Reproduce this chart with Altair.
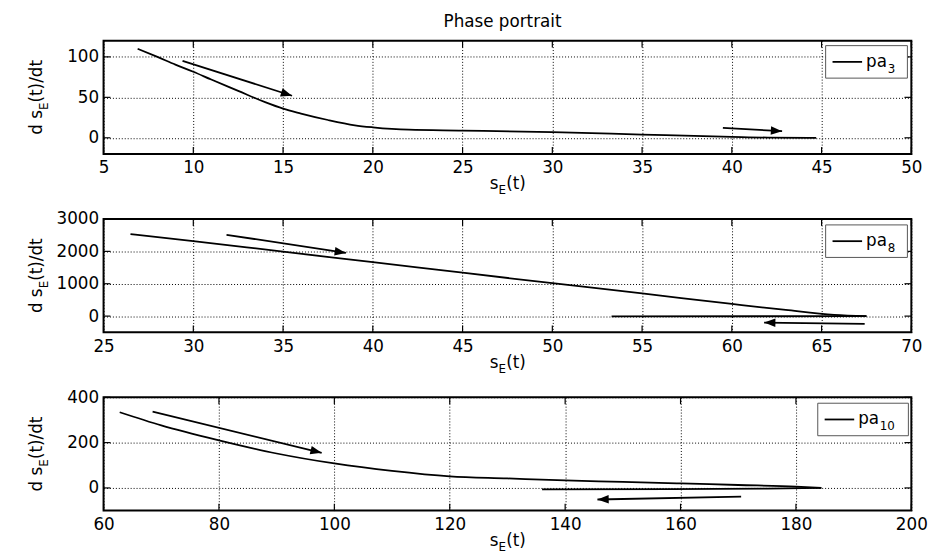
import math
import altair as alt
import pandas as pd

# ---------------- data ----------------
# panel 1 : pa_3
p1_x = [6.9, 8.0, 9.0, 10.0, 11.0, 12.5, 14.0, 15.0, 16.0, 17.5, 19.0, 20.0, 22.0, 25.0, 30.0, 35.0, 40.0, 42.0, 44.7]
p1_y = [110, 100, 90.5, 81.6, 72, 58, 44, 36, 30, 22, 15.5, 13, 10, 9, 7, 4, 1.2, 0.3, 0]
p1_rx = []
p1_ry = []
p1_arrows = [(9.4, 95, 15.5, 52), (39.5, 12.2, 42.8, 8.2)]
p1_xticks = [5, 10, 15, 20, 25, 30, 35, 40, 45, 50]
p1_yticks = [0, 50, 100]
p1_xdom = [5, 50]
p1_ydom = [-20, 120]

# panel 2 : pa_8
p2_x = [26.5, 30, 35, 40, 45, 50, 55, 60, 63, 65.7, 67.5]
p2_y = [2533, 2320, 1990, 1668, 1340, 1017, 700, 376, 190, 40, 0]
p2_rx = [67.5, 53.3]
p2_ry = [0, -10]
p2_arrows = [(31.85, 2513, 38.5, 1953), (67.4, -240, 61.8, -200)]
p2_xticks = [25, 30, 35, 40, 45, 50, 55, 60, 65, 70]
p2_yticks = [0, 1000, 2000, 3000]
p2_xdom = [25, 70]
p2_ydom = [-500, 3000]

# panel 3 : pa_10
p3_x = [62.8, 70, 80, 90, 100, 110, 120, 130, 140, 150, 160, 170, 180, 184.4]
p3_y = [334, 276, 210, 152, 108, 75, 51, 42, 33, 27, 20, 13, 6, 0]
p3_rx = [184.4, 175, 136]
p3_ry = [0, -3, -6]
p3_arrows = [(68.5, 337, 97.8, 155), (170.5, -38, 145.6, -51)]
p3_xticks = [60, 80, 100, 120, 140, 160, 180, 200]
p3_yticks = [0, 200, 400]
p3_xdom = [60, 200]
p3_ydom = [-100, 400]

W, H = 820, 115
FONT = "DejaVu Sans"
FS = 17      # main text size
FSS = 12     # subscript size
ARROW = "M0,0L-1,-0.38L-1,0.38Z"
ONE = pd.DataFrame({"a": [0]})


def txt(text, x, y, size=FS, angle=0, align="left", baseline="alphabetic"):
    return alt.Chart(ONE).mark_text(
        text=text, font=FONT, fontSize=size, color="black", angle=angle,
        align=align, baseline=baseline
    ).encode(x=alt.value(x), y=alt.value(y))


def panel(xv, yv, rx, ry, arrows, xticks, yticks, xdom, ydom, sub, legend_box, title=None):
    xs = alt.Scale(domain=xdom, nice=False, zero=False)
    ys = alt.Scale(domain=ydom, nice=False, zero=False)
    axX = alt.Axis(values=xticks, title=None, grid=True, format="d")
    axY = alt.Axis(values=yticks, title=None, grid=True, format="d")

    curve_df = pd.DataFrame({
        "x": list(xv) + list(rx),
        "y": list(yv) + list(ry),
        "seg": ["fwd"] * len(xv) + ["ret"] * len(rx),
    })
    sx = W / (xdom[1] - xdom[0])
    sy = H / (ydom[1] - ydom[0])
    arr_rows = []
    for (x1, y1, x2, y2) in arrows:
        ang = math.degrees(math.atan2(-(y2 - y1) * sy, (x2 - x1) * sx)) % 360
        arr_rows.append({"x1": x1, "y1": y1, "x2": x2, "y2": y2, "ang": ang})
    arr_df = pd.DataFrame(arr_rows)

    curve = alt.Chart(curve_df).mark_line(
        color="black", strokeWidth=1.8, interpolate="monotone"
    ).encode(
        x=alt.X("x:Q", scale=xs, axis=axX),
        y=alt.Y("y:Q", scale=ys, axis=axY),
        detail="seg:N",
    )
    shafts = alt.Chart(arr_df).mark_rule(color="black", strokeWidth=1.8).encode(
        x=alt.X("x1:Q", scale=xs, axis=axX),
        y=alt.Y("y1:Q", scale=ys, axis=axY),
        x2="x2:Q",
        y2="y2:Q",
    )
    heads = alt.Chart(arr_df).mark_point(
        shape=ARROW, filled=True, size=520, color="black", opacity=1, strokeWidth=0
    ).encode(
        x=alt.X("x2:Q", scale=xs, axis=axX),
        y=alt.Y("y2:Q", scale=ys, axis=axY),
        angle=alt.Angle("ang:Q", scale=None),
    )
    xt_df = pd.DataFrame({"v": xticks})
    yt_df = pd.DataFrame({"v": yticks})
    tb = alt.Chart(xt_df).mark_rule(color="black", strokeWidth=1.2).encode(
        x=alt.X("v:Q", scale=xs, axis=axX), y=alt.value(H), y2=alt.value(H - 7))
    tt = alt.Chart(xt_df).mark_rule(color="black", strokeWidth=1.2).encode(
        x=alt.X("v:Q", scale=xs, axis=axX), y=alt.value(0), y2=alt.value(7))
    tl = alt.Chart(yt_df).mark_rule(color="black", strokeWidth=1.2).encode(
        y=alt.Y("v:Q", scale=ys, axis=axY), x=alt.value(0), x2=alt.value(7))
    tr = alt.Chart(yt_df).mark_rule(color="black", strokeWidth=1.2).encode(
        y=alt.Y("v:Q", scale=ys, axis=axY), x=alt.value(W - 7), x2=alt.value(W))

    bx0, bx1, by0, by1 = legend_box
    lbox = alt.Chart(ONE).mark_rect(fill="white", stroke="#555", strokeWidth=1).encode(
        x=alt.value(bx0), x2=alt.value(bx1), y=alt.value(by0), y2=alt.value(by1))
    lline = alt.Chart(ONE).mark_rule(color="black", strokeWidth=1.8).encode(
        x=alt.value(bx0 + 7), x2=alt.value(bx0 + 37), y=alt.value((by0 + by1) / 2))
    ltxt = txt("pa", bx0 + 41, (by0 + by1) / 2 + 5)
    lsub = txt(sub, bx0 + 63, (by0 + by1) / 2 + 11, FSS)

    # x axis title  s_E(t)
    x0 = W / 2 - 18
    xt1 = txt("s", x0, H + 36)
    xt2 = txt("E", x0 + 9, H + 41, FSS)
    xt3 = txt("(t)", x0 + 16.8, H + 36)
    # y axis title  d s_E(t)/dt (rotated)
    y0 = H / 2 + 38
    yt1 = txt("d s", -62, y0, angle=270)
    yt2 = txt("E", -56, y0 - 25.1, FSS, angle=270)
    yt3 = txt("(t)/dt", -62, y0 - 32.8, angle=270)

    layers = [curve, shafts, heads, tb, tt, tl, tr, lbox, lline, ltxt, lsub,
              xt1, xt2, xt3, yt1, yt2, yt3]
    if title:
        layers.append(txt(title, 405, -14, 17, align="center"))
    return alt.layer(*layers).properties(width=W, height=H)


c1 = panel(p1_x, p1_y, p1_rx, p1_ry, p1_arrows, p1_xticks, p1_yticks, p1_xdom, p1_ydom, "3",
           (733, 816, 5, 38), title="Phase portrait")
c2 = panel(p2_x, p2_y, p2_rx, p2_ry, p2_arrows, p2_xticks, p2_yticks, p2_xdom, p2_ydom, "8",
           (733, 816, 6, 39))
c3 = panel(p3_x, p3_y, p3_rx, p3_ry, p3_arrows, p3_xticks, p3_yticks, p3_xdom, p3_ydom, "10",
           (725, 817, 6, 39))

chart = alt.vconcat(c1, c2, c3, spacing=66, bounds="flush").properties(
    padding={"left": 19, "top": 0, "right": 5, "bottom": 5},
    background="white",
).configure_view(
    stroke="black", strokeWidth=2
).configure_axis(
    labelFont=FONT, labelFontSize=FS, labelColor="black",
    grid=True, gridColor="black", gridDash=[1, 2], gridOpacity=1, gridWidth=1,
    domain=False, ticks=False, tickSize=0, labelFlush=False, labelOverlap=False,
).configure_axisX(labelPadding=6).configure_axisY(labelPadding=5)

chart.save("out.html", embed_options={"renderer": "svg", "actions": False})
